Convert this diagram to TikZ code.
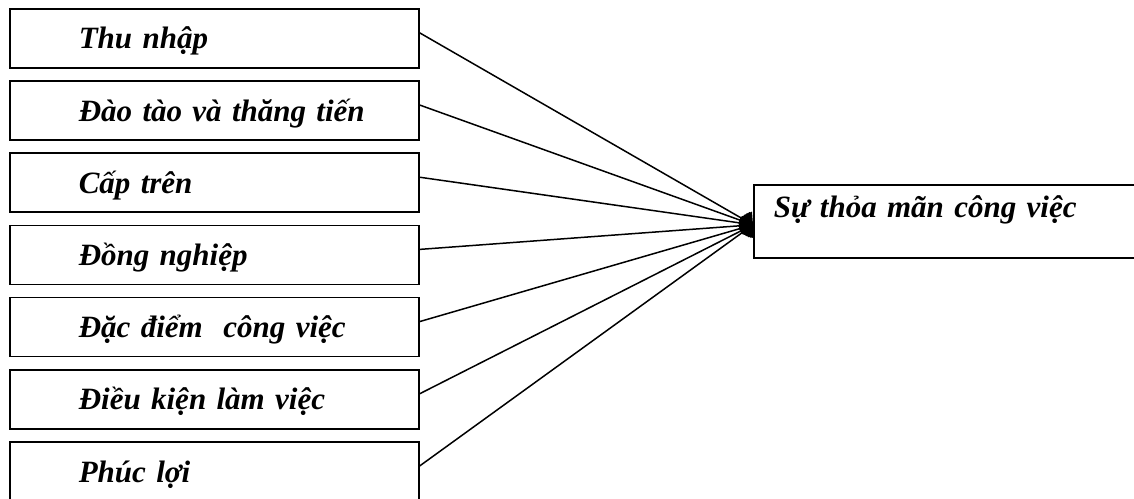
\documentclass[tikz,border=0pt]{standalone}
\usepackage{fontspec}
\setmainfont{Liberation Serif}
\usetikzlibrary{arrows.meta}
\tikzset{
  box/.style={draw, line width=1.6pt, anchor=north west, align=left,
    inner ysep=0pt, font=\bfseries\itshape\fontsize{31}{36}\selectfont},
  factor/.style={box, text width=400pt, inner xsep=4.5pt,
    text height=40pt, text depth=19pt,
    execute at begin node={\hspace*{64.5pt}}},
  result/.style={box, text width=392pt, inner xsep=4pt,
    text height=33pt, text depth=40pt,
    execute at begin node={\hspace*{16pt}}},
  link/.style={line width=1.5pt, -{Diamond[length=15pt,width=22pt]}}
}

\begin{document}
\begin{tikzpicture}[x=1pt,y=1pt]
	\path[use as bounding box, clip] (0,0) rectangle (1134,-498);
	% factors
	\node[factor] (thu) at (9,-8) {Thu nhập};
	\node[factor] (dao) at (9,-80.2) {Đào tào và thăng tiến};
	\node[factor] (cap) at (9,-152.4) {Cấp trên};
	\node[factor] (dong) at (9,-224.6) {Đồng nghiệp};
	\node[factor] (dac) at (9,-296.8) {Đặc điểm\ \ công việc};
	\node[factor] (dieu) at (9,-369) {Điều kiện làm việc};
	\node[factor] (phuc) at (9,-441.2) {Phúc lợi};
	% result
	\node[result] (res) at (753,-184) {Sự thỏa mãn công việc};
	\coordinate (hub) at ([yshift=-3.5pt]res.west);
	% links
	\draw[link] ([yshift=5.5pt]thu.east) -- (hub);
	\draw[link] ([yshift=5.5pt]dao.east) -- (hub);
	\draw[link] ([yshift=5.5pt]cap.east) -- (hub);
	\draw[link] ([yshift=5.5pt]dong.east) -- (hub);
	\draw[link] ([yshift=5.5pt]dac.east) -- (hub);
	\draw[link] ([yshift=5.5pt]dieu.east) -- (hub);
	\draw[link] ([yshift=5.5pt]phuc.east) -- (hub);
\end{tikzpicture}
\end{document}
